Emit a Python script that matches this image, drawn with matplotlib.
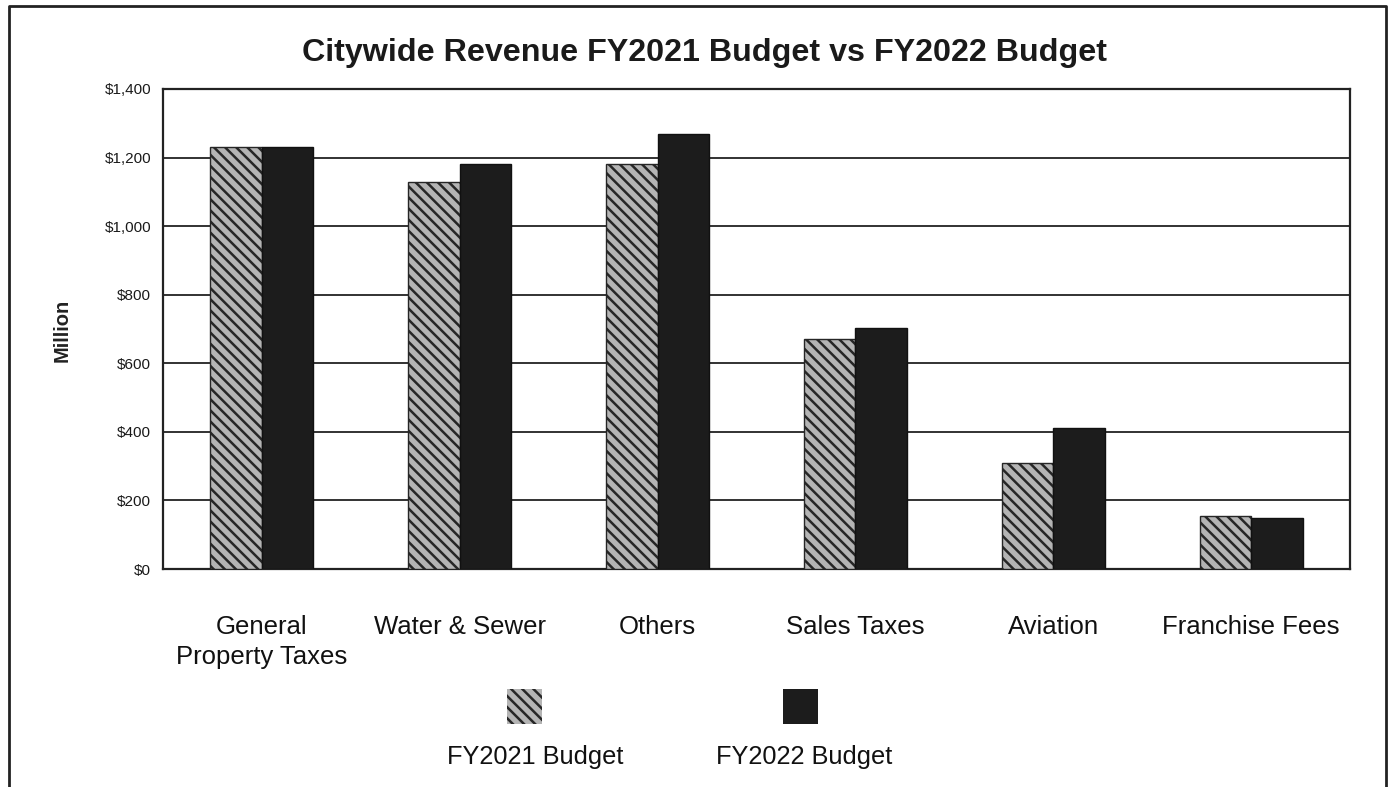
import matplotlib
matplotlib.use("Agg")
import matplotlib.pyplot as plt
import numpy as np
from matplotlib.lines import Line2D
from matplotlib.patches import Rectangle

# --- Data (millions of dollars) ---
categories = [
    "General\nProperty Taxes",
    "Water & Sewer",
    "Others",
    "Sales Taxes",
    "Aviation",
    "Franchise Fees",
]
fy2021_budget = [1230, 1130, 1182, 671, 308, 154]
fy2022_budget = [1232, 1182, 1269, 703, 412, 148]
y_ticks = [0, 200, 400, 600, 800, 1000, 1200, 1400]

plt.rcParams["font.family"] = ["Liberation Sans", "DejaVu Sans"]
plt.rcParams["hatch.linewidth"] = 1.8

HATCH_FACE = "#b4b4b4"
HATCH_INK = "#262626"
SOLID = "#1c1c1c"

W, H = 1389, 787
fig = plt.figure(figsize=(W / 100, H / 100), dpi=100)
ax = fig.add_axes([163 / W, 1 - 569 / H, (1350 - 163) / W, (569 - 89) / H])

x = np.arange(len(categories))
bw = 0.26
ax.bar(x - bw / 2, fy2021_budget, bw, facecolor=HATCH_FACE, edgecolor=HATCH_INK,
       hatch="\\\\\\", linewidth=1.0, zorder=3)
ax.bar(x + bw / 2, fy2022_budget, bw, color=SOLID, edgecolor="#111111",
       linewidth=1.0, zorder=3)

ax.set_xlim(-0.5, len(categories) - 0.5)
ax.set_ylim(0, 1400)
ax.set_yticks(y_ticks)
ax.set_yticklabels([f"${v:,}" for v in y_ticks], fontsize=11, color="#1a1a1a")
ax.set_xticks(x)
ax.set_xticklabels(categories, fontsize=18.5, color="#111111", linespacing=1.32)
ax.tick_params(axis="x", length=0, pad=33)
ax.tick_params(axis="y", length=0, pad=8.5)

ax.yaxis.grid(True, color="#222222", linewidth=1.3, zorder=1)
ax.set_axisbelow(True)
for spine in ax.spines.values():
    spine.set_color("#222222")
    spine.set_linewidth(1.6)

fig.text(62 / W, 1 - 330 / H, "Million", rotation=90, fontsize=14.5,
         fontweight="bold", ha="center", va="center", color="#222222")
fig.text(705 / W, 1 - 53 / H, "Citywide Revenue FY2021 Budget vs FY2022 Budget",
         fontsize=23.2, fontweight="bold", ha="center", va="center", color="#1a1a1a")

# legend: swatch above each label
swatches = [
    (507, 689, dict(facecolor=HATCH_FACE, edgecolor="none", hatch="\\\\\\"), "FY2021 Budget", 535),
    (783, 689, dict(facecolor=SOLID, edgecolor="none"), "FY2022 Budget", 804),
]
for sx, sy, style, label, lx in swatches:
    r = Rectangle((sx / W, 1 - (sy + 35) / H), 35 / W, 35 / H,
                  transform=fig.transFigure, **style)
    if "hatch" in style:
        r.set_edgecolor(HATCH_INK)
        r.set_linewidth(0)
    fig.add_artist(r)
    fig.text(lx / W, 1 - 757 / H, label, fontsize=18.3, ha="center", va="center",
             color="#111111")

# open-bottom outer frame
frame = Line2D([9 / W, 9 / W, 1386 / W, 1386 / W],
               [-0.02, 1 - 6 / H, 1 - 6 / H, -0.02],
               transform=fig.transFigure, color="#222222", linewidth=2.0)
fig.add_artist(frame)

fig.savefig("out.png", dpi=100)
